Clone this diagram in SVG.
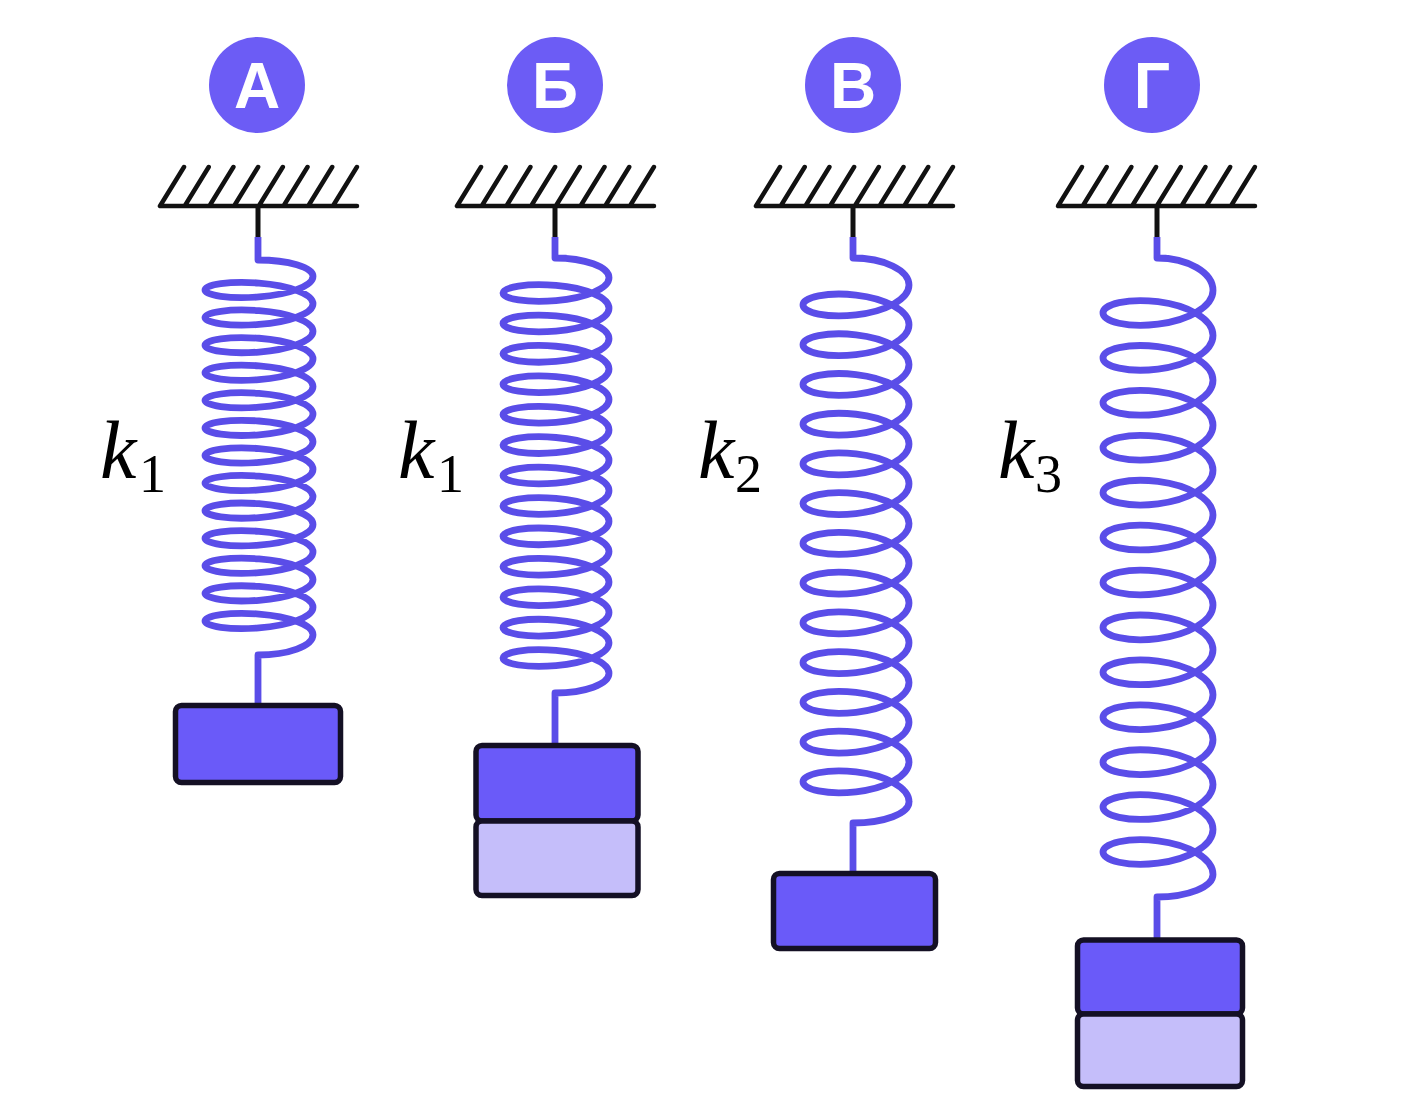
<svg xmlns="http://www.w3.org/2000/svg" xmlns:xlink="http://www.w3.org/1999/xlink" width="1406" height="1119" viewBox="0 0 1406 1119">
<style>
.badge{fill:#6c5cf5}
.badge-t{fill:#fff;font-family:"Liberation Sans",Arial,sans-serif;font-weight:bold;font-size:64px;text-anchor:middle}
.gnd{fill:none;stroke:#111;stroke-width:4.5;stroke-linecap:round}
.stem{fill:none;stroke:#111;stroke-width:5}
.spring{fill:none;stroke:#5a4de8;stroke-width:6.8;stroke-linejoin:round}
.m1{fill:#6a5af9;stroke:#141024;stroke-width:5.5}
.m2{fill:#c5befa;stroke:#141024;stroke-width:5.5}
.k{font-family:"Liberation Serif","Times New Roman",serif;font-style:italic;font-size:82px;fill:#000}
.sub{font-family:"Liberation Serif","Times New Roman",serif;font-size:54px;fill:#000}
</style>
<defs>
<path id="ground" d="M0,206 H197 M0,206 l24,-39 M24.7,206 l24,-39 M49.4,206 l24,-39 M74.1,206 l24,-39 M98.8,206 l24,-39 M123.5,206 l24,-39 M148.2,206 l24,-39 M172.9,206 l24,-39"/>
</defs>
<rect width="1406" height="1119" fill="#fff"/>

<g id="spring-A">
<circle class="badge" cx="257" cy="85" r="48"/>
<text class="badge-t" x="257" y="108">А</text>
<use xlink:href="#ground" href="#ground" x="160" class="gnd"/>
<path class="stem" d="M258,206 V238"/>
<path class="spring" d="M258,237 V260 A55,16.2 0 0 1 313,276.2 c0,9.91 -24.18,18.39 -54,20.69 c-29.82,2.3 -54,-1.58 -54,-6.9 c0,-5.32 24.18,-9.19 54,-6.9 c29.82,2.3 54,10.77 54,20.69 c0,9.91 -24.18,18.39 -54,20.69 c-29.82,2.3 -54,-1.58 -54,-6.9 c0,-5.32 24.18,-9.19 54,-6.9 c29.82,2.3 54,10.77 54,20.69 c0,9.91 -24.18,18.39 -54,20.69 c-29.82,2.3 -54,-1.58 -54,-6.9 c0,-5.32 24.18,-9.19 54,-6.9 c29.82,2.3 54,10.77 54,20.69 c0,9.91 -24.18,18.39 -54,20.69 c-29.82,2.3 -54,-1.58 -54,-6.9 c0,-5.32 24.18,-9.19 54,-6.9 c29.82,2.3 54,10.77 54,20.69 c0,9.91 -24.18,18.39 -54,20.69 c-29.82,2.3 -54,-1.58 -54,-6.9 c0,-5.32 24.18,-9.19 54,-6.9 c29.82,2.3 54,10.77 54,20.69 c0,9.91 -24.18,18.39 -54,20.69 c-29.82,2.3 -54,-1.58 -54,-6.9 c0,-5.32 24.18,-9.19 54,-6.9 c29.82,2.3 54,10.77 54,20.69 c0,9.91 -24.18,18.39 -54,20.69 c-29.82,2.3 -54,-1.58 -54,-6.9 c0,-5.32 24.18,-9.19 54,-6.9 c29.82,2.3 54,10.77 54,20.69 c0,9.91 -24.18,18.39 -54,20.69 c-29.82,2.3 -54,-1.58 -54,-6.9 c0,-5.32 24.18,-9.19 54,-6.9 c29.82,2.3 54,10.77 54,20.69 c0,9.91 -24.18,18.39 -54,20.69 c-29.82,2.3 -54,-1.58 -54,-6.9 c0,-5.32 24.18,-9.19 54,-6.9 c29.82,2.3 54,10.77 54,20.69 c0,9.91 -24.18,18.39 -54,20.69 c-29.82,2.3 -54,-1.58 -54,-6.9 c0,-5.32 24.18,-9.19 54,-6.9 c29.82,2.3 54,10.77 54,20.69 c0,9.91 -24.18,18.39 -54,20.69 c-29.82,2.3 -54,-1.58 -54,-6.9 c0,-5.32 24.18,-9.19 54,-6.9 c29.82,2.3 54,10.77 54,20.69 c0,9.91 -24.18,18.39 -54,20.69 c-29.82,2.3 -54,-1.58 -54,-6.9 c0,-5.32 24.18,-9.19 54,-6.9 c29.82,2.3 54,10.77 54,20.69 c0,9.91 -24.18,18.39 -54,20.69 c-29.82,2.3 -54,-1.58 -54,-6.9 c0,-5.32 24.18,-9.19 54,-6.9 c29.82,2.3 54,10.77 54,20.69 A55,20.3 0 0 1 258,655 V706"/>
<rect class="m1" x="175.5" y="705.5" width="165" height="77" rx="6"/>
<text x="100" y="478"><tspan class="k">k</tspan><tspan class="sub" x="139" y="492">1</tspan></text>
</g>

<g id="spring-B">
<circle class="badge" cx="555" cy="85" r="48"/>
<text class="badge-t" x="555" y="108">Б</text>
<use xlink:href="#ground" href="#ground" x="457" class="gnd"/>
<path class="stem" d="M555,206 V238"/>
<path class="spring" d="M555,237 V258 A54,19.8 0 0 1 609,277.8 c0,10.94 -23.73,20.28 -53,22.82 c-29.27,2.54 -53,-1.74 -53,-7.61 c0,-5.87 23.73,-10.14 53,-7.61 c29.27,2.54 53,11.88 53,22.82 c0,10.94 -23.73,20.28 -53,22.82 c-29.27,2.54 -53,-1.74 -53,-7.61 c0,-5.87 23.73,-10.14 53,-7.61 c29.27,2.54 53,11.88 53,22.82 c0,10.94 -23.73,20.28 -53,22.82 c-29.27,2.54 -53,-1.74 -53,-7.61 c0,-5.87 23.73,-10.14 53,-7.61 c29.27,2.54 53,11.88 53,22.82 c0,10.94 -23.73,20.28 -53,22.82 c-29.27,2.54 -53,-1.74 -53,-7.61 c0,-5.87 23.73,-10.14 53,-7.61 c29.27,2.54 53,11.88 53,22.82 c0,10.94 -23.73,20.28 -53,22.82 c-29.27,2.54 -53,-1.74 -53,-7.61 c0,-5.87 23.73,-10.14 53,-7.61 c29.27,2.54 53,11.88 53,22.82 c0,10.94 -23.73,20.28 -53,22.82 c-29.27,2.54 -53,-1.74 -53,-7.61 c0,-5.87 23.73,-10.14 53,-7.61 c29.27,2.54 53,11.88 53,22.82 c0,10.94 -23.73,20.28 -53,22.82 c-29.27,2.54 -53,-1.74 -53,-7.61 c0,-5.87 23.73,-10.14 53,-7.61 c29.27,2.54 53,11.88 53,22.82 c0,10.94 -23.73,20.28 -53,22.82 c-29.27,2.54 -53,-1.74 -53,-7.61 c0,-5.87 23.73,-10.14 53,-7.61 c29.27,2.54 53,11.88 53,22.82 c0,10.94 -23.73,20.28 -53,22.82 c-29.27,2.54 -53,-1.74 -53,-7.61 c0,-5.87 23.73,-10.14 53,-7.61 c29.27,2.54 53,11.88 53,22.82 c0,10.94 -23.73,20.28 -53,22.82 c-29.27,2.54 -53,-1.74 -53,-7.61 c0,-5.87 23.73,-10.14 53,-7.61 c29.27,2.54 53,11.88 53,22.82 c0,10.94 -23.73,20.28 -53,22.82 c-29.27,2.54 -53,-1.74 -53,-7.61 c0,-5.87 23.73,-10.14 53,-7.61 c29.27,2.54 53,11.88 53,22.82 c0,10.94 -23.73,20.28 -53,22.82 c-29.27,2.54 -53,-1.74 -53,-7.61 c0,-5.87 23.73,-10.14 53,-7.61 c29.27,2.54 53,11.88 53,22.82 c0,10.94 -23.73,20.28 -53,22.82 c-29.27,2.54 -53,-1.74 -53,-7.61 c0,-5.87 23.73,-10.14 53,-7.61 c29.27,2.54 53,11.88 53,22.82 A54,19.7 0 0 1 555,693 V746"/>
<rect class="m1" x="476" y="745.5" width="162" height="75.5" rx="6"/>
<rect class="m2" x="476" y="821" width="162" height="74.5" rx="6"/>
<text x="398" y="478"><tspan class="k">k</tspan><tspan class="sub" x="437" y="492">1</tspan></text>
</g>

<g id="spring-C">
<circle class="badge" cx="853" cy="85" r="48"/>
<text class="badge-t" x="853" y="108">В</text>
<use xlink:href="#ground" href="#ground" x="756" class="gnd"/>
<path class="stem" d="M853,206 V238"/>
<path class="spring" d="M853,237 V258 A56,27.1 0 0 1 909,285.1 c0,14.29 -23.73,26.5 -53,29.81 c-29.27,3.31 -53,-2.27 -53,-9.94 c0,-7.66 23.73,-13.25 53,-9.94 c29.27,3.31 53,15.52 53,29.81 c0,14.29 -23.73,26.5 -53,29.81 c-29.27,3.31 -53,-2.27 -53,-9.94 c0,-7.66 23.73,-13.25 53,-9.94 c29.27,3.31 53,15.52 53,29.81 c0,14.29 -23.73,26.5 -53,29.81 c-29.27,3.31 -53,-2.27 -53,-9.94 c0,-7.66 23.73,-13.25 53,-9.94 c29.27,3.31 53,15.52 53,29.81 c0,14.29 -23.73,26.5 -53,29.81 c-29.27,3.31 -53,-2.27 -53,-9.94 c0,-7.66 23.73,-13.25 53,-9.94 c29.27,3.31 53,15.52 53,29.81 c0,14.29 -23.73,26.5 -53,29.81 c-29.27,3.31 -53,-2.27 -53,-9.94 c0,-7.66 23.73,-13.25 53,-9.94 c29.27,3.31 53,15.52 53,29.81 c0,14.29 -23.73,26.5 -53,29.81 c-29.27,3.31 -53,-2.27 -53,-9.94 c0,-7.66 23.73,-13.25 53,-9.94 c29.27,3.31 53,15.52 53,29.81 c0,14.29 -23.73,26.5 -53,29.81 c-29.27,3.31 -53,-2.27 -53,-9.94 c0,-7.66 23.73,-13.25 53,-9.94 c29.27,3.31 53,15.52 53,29.81 c0,14.29 -23.73,26.5 -53,29.81 c-29.27,3.31 -53,-2.27 -53,-9.94 c0,-7.66 23.73,-13.25 53,-9.94 c29.27,3.31 53,15.52 53,29.81 c0,14.29 -23.73,26.5 -53,29.81 c-29.27,3.31 -53,-2.27 -53,-9.94 c0,-7.66 23.73,-13.25 53,-9.94 c29.27,3.31 53,15.52 53,29.81 c0,14.29 -23.73,26.5 -53,29.81 c-29.27,3.31 -53,-2.27 -53,-9.94 c0,-7.66 23.73,-13.25 53,-9.94 c29.27,3.31 53,15.52 53,29.81 c0,14.29 -23.73,26.5 -53,29.81 c-29.27,3.31 -53,-2.27 -53,-9.94 c0,-7.66 23.73,-13.25 53,-9.94 c29.27,3.31 53,15.52 53,29.81 c0,14.29 -23.73,26.5 -53,29.81 c-29.27,3.31 -53,-2.27 -53,-9.94 c0,-7.66 23.73,-13.25 53,-9.94 c29.27,3.31 53,15.52 53,29.81 c0,14.29 -23.73,26.5 -53,29.81 c-29.27,3.31 -53,-2.27 -53,-9.94 c0,-7.66 23.73,-13.25 53,-9.94 c29.27,3.31 53,15.52 53,29.81 A56,21 0 0 1 853,823 V874"/>
<rect class="m1" x="773.5" y="873.5" width="162" height="75" rx="6"/>
<text x="698" y="478"><tspan class="k">k</tspan><tspan class="sub" x="735" y="492">2</tspan></text>
</g>

<g id="spring-D">
<circle class="badge" cx="1152" cy="85" r="48"/>
<text class="badge-t" x="1152" y="108">Г</text>
<use xlink:href="#ground" href="#ground" x="1058" class="gnd"/>
<path class="stem" d="M1157,206 V238"/>
<path class="spring" d="M1157,237 V258 A56,32.5 0 0 1 1213,290.5 c0,16.15 -24.62,29.95 -55,33.69 c-30.38,3.74 -55,-2.57 -55,-11.23 c0,-8.66 24.62,-14.97 55,-11.23 c30.38,3.74 55,17.54 55,33.69 c0,16.15 -24.62,29.95 -55,33.69 c-30.38,3.74 -55,-2.57 -55,-11.23 c0,-8.66 24.62,-14.97 55,-11.23 c30.38,3.74 55,17.54 55,33.69 c0,16.15 -24.62,29.95 -55,33.69 c-30.38,3.74 -55,-2.57 -55,-11.23 c0,-8.66 24.62,-14.97 55,-11.23 c30.38,3.74 55,17.54 55,33.69 c0,16.15 -24.62,29.95 -55,33.69 c-30.38,3.74 -55,-2.57 -55,-11.23 c0,-8.66 24.62,-14.97 55,-11.23 c30.38,3.74 55,17.54 55,33.69 c0,16.15 -24.62,29.95 -55,33.69 c-30.38,3.74 -55,-2.57 -55,-11.23 c0,-8.66 24.62,-14.97 55,-11.23 c30.38,3.74 55,17.54 55,33.69 c0,16.15 -24.62,29.95 -55,33.69 c-30.38,3.74 -55,-2.57 -55,-11.23 c0,-8.66 24.62,-14.97 55,-11.23 c30.38,3.74 55,17.54 55,33.69 c0,16.15 -24.62,29.95 -55,33.69 c-30.38,3.74 -55,-2.57 -55,-11.23 c0,-8.66 24.62,-14.97 55,-11.23 c30.38,3.74 55,17.54 55,33.69 c0,16.15 -24.62,29.95 -55,33.69 c-30.38,3.74 -55,-2.57 -55,-11.23 c0,-8.66 24.62,-14.97 55,-11.23 c30.38,3.74 55,17.54 55,33.69 c0,16.15 -24.62,29.95 -55,33.69 c-30.38,3.74 -55,-2.57 -55,-11.23 c0,-8.66 24.62,-14.97 55,-11.23 c30.38,3.74 55,17.54 55,33.69 c0,16.15 -24.62,29.95 -55,33.69 c-30.38,3.74 -55,-2.57 -55,-11.23 c0,-8.66 24.62,-14.97 55,-11.23 c30.38,3.74 55,17.54 55,33.69 c0,16.15 -24.62,29.95 -55,33.69 c-30.38,3.74 -55,-2.57 -55,-11.23 c0,-8.66 24.62,-14.97 55,-11.23 c30.38,3.74 55,17.54 55,33.69 c0,16.15 -24.62,29.95 -55,33.69 c-30.38,3.74 -55,-2.57 -55,-11.23 c0,-8.66 24.62,-14.97 55,-11.23 c30.38,3.74 55,17.54 55,33.69 c0,16.15 -24.62,29.95 -55,33.69 c-30.38,3.74 -55,-2.57 -55,-11.23 c0,-8.66 24.62,-14.97 55,-11.23 c30.38,3.74 55,17.54 55,33.69 A56,22.5 0 0 1 1157,897 V941"/>
<rect class="m1" x="1077.5" y="940" width="165" height="74" rx="6"/>
<rect class="m2" x="1077.5" y="1014" width="165" height="72.5" rx="6"/>
<text x="998" y="478"><tspan class="k">k</tspan><tspan class="sub" x="1035" y="492">3</tspan></text>
</g>
</svg>
